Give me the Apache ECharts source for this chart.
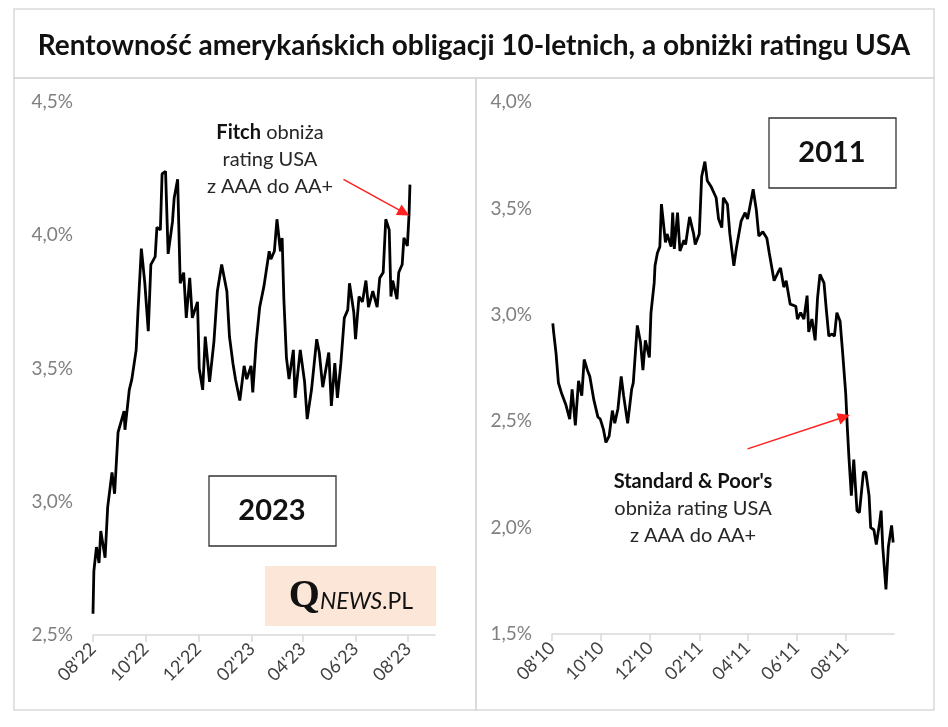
<!DOCTYPE html>
<html>
<head>
<meta charset="utf-8">
<script src="https://cdn.jsdelivr.net/npm/echarts@6/dist/echarts.min.js"></script>
<style>
html, body { margin: 0; padding: 0; background: #fff; }
#main { width: 948px; height: 727px; }
</style>
</head>
<body>
<div id="main"></div>
<script>
// rentownosc 10-latek USA, 2022-2023 (lewy panel)
var leftDates = ['2022-08-01','2022-08-02','2022-08-05','2022-08-08','2022-08-10','2022-08-15','2022-08-18','2022-08-23','2022-08-26','2022-08-30',
	'2022-09-06','2022-09-07','2022-09-12','2022-09-15','2022-09-20','2022-09-22','2022-09-26','2022-09-30','2022-10-04','2022-10-07',
	'2022-10-12','2022-10-14','2022-10-18','2022-10-20','2022-10-24','2022-10-27','2022-11-01','2022-11-03','2022-11-07','2022-11-10',
	'2022-11-14','2022-11-17','2022-11-21','2022-11-24','2022-11-30','2022-12-02','2022-12-06','2022-12-09','2022-12-14','2022-12-19',
	'2022-12-23','2022-12-28','2023-01-03','2023-01-06','2023-01-10','2023-01-13','2023-01-18','2023-01-23','2023-01-26','2023-01-31',
	'2023-02-02','2023-02-06','2023-02-10','2023-02-15','2023-02-21','2023-02-23','2023-02-27','2023-03-02','2023-03-06','2023-03-08',
	'2023-03-10','2023-03-13','2023-03-16','2023-03-21','2023-03-23','2023-03-29','2023-04-03','2023-04-06','2023-04-11','2023-04-17',
	'2023-04-20','2023-04-24','2023-05-01','2023-05-04','2023-05-08','2023-05-11','2023-05-15','2023-05-19','2023-05-23','2023-05-25',
	'2023-05-30','2023-06-01','2023-06-05','2023-06-09','2023-06-13','2023-06-16','2023-06-21','2023-06-26','2023-06-29','2023-07-03',
	'2023-07-06','2023-07-10','2023-07-12','2023-07-14','2023-07-19','2023-07-21','2023-07-25','2023-07-27','2023-07-31','2023-08-02',
	'2023-08-03'];
var leftYields = [2.58,2.74,2.83,2.77,2.89,2.79,2.98,3.11,3.03,3.26,
	3.34,3.27,3.42,3.46,3.57,3.71,3.95,3.82,3.64,3.89,
	3.92,4.03,4.02,4.23,4.24,3.93,4.05,4.14,4.21,3.82,
	3.86,3.69,3.84,3.69,3.75,3.50,3.42,3.62,3.45,3.60,
	3.79,3.89,3.79,3.62,3.52,3.46,3.38,3.51,3.46,3.51,
	3.41,3.60,3.73,3.81,3.94,3.91,3.94,4.06,3.94,3.99,
	3.76,3.54,3.46,3.57,3.39,3.57,3.45,3.31,3.42,3.61,
	3.56,3.43,3.56,3.36,3.52,3.39,3.52,3.69,3.72,3.82,
	3.71,3.61,3.77,3.75,3.83,3.73,3.79,3.73,3.84,3.86,
	4.06,4.02,3.77,3.83,3.76,3.86,3.89,3.99,3.96,4.08,
	4.19];
var leftTicks = ['2022-08-01','2022-10-01','2022-12-01','2023-02-01','2023-04-01','2023-06-01','2023-08-01'];

// rentownosc 10-latek USA, 2010-2011 (prawy panel)
var rightDates = ['2010-08-02','2010-08-03','2010-08-06','2010-08-09','2010-08-13','2010-08-18','2010-08-23','2010-08-26','2010-08-30','2010-09-03',
	'2010-09-07','2010-09-10','2010-09-14','2010-09-17','2010-09-22','2010-09-27','2010-09-30','2010-10-04','2010-10-07','2010-10-11',
	'2010-10-15','2010-10-18','2010-10-22','2010-10-26','2010-10-29','2010-11-03','2010-11-08','2010-11-10','2010-11-15','2010-11-19',
	'2010-11-22','2010-11-25','2010-11-30','2010-12-02','2010-12-06','2010-12-07','2010-12-10','2010-12-13','2010-12-15','2010-12-20',
	'2010-12-22','2010-12-27','2010-12-29','2010-12-31','2011-01-04','2011-01-07','2011-01-12','2011-01-14','2011-01-19','2011-01-24',
	'2011-01-26','2011-01-31','2011-02-03','2011-02-07','2011-02-10','2011-02-15','2011-02-21','2011-02-24','2011-02-28','2011-03-02',
	'2011-03-07','2011-03-10','2011-03-15','2011-03-18','2011-03-24','2011-03-29','2011-04-01','2011-04-06','2011-04-08','2011-04-12',
	'2011-04-15','2011-04-20','2011-04-25','2011-04-28','2011-05-04','2011-05-09','2011-05-12','2011-05-16','2011-05-19','2011-05-24',
	'2011-05-31','2011-06-02','2011-06-06','2011-06-10','2011-06-14','2011-06-16','2011-06-20','2011-06-24','2011-06-27','2011-06-30',
	'2011-07-05','2011-07-08','2011-07-11','2011-07-15','2011-07-18','2011-07-21','2011-07-25','2011-07-28','2011-08-01','2011-08-03',
	'2011-08-05','2011-08-08','2011-08-11','2011-08-15','2011-08-18','2011-08-23','2011-08-26','2011-08-30','2011-09-01','2011-09-05',
	'2011-09-08','2011-09-12','2011-09-14','2011-09-16','2011-09-20','2011-09-23','2011-09-27','2011-09-29'];
var rightYields = [2.96,2.92,2.82,2.68,2.63,2.58,2.51,2.65,2.48,2.69,
	2.62,2.79,2.74,2.71,2.60,2.52,2.51,2.46,2.40,2.43,
	2.55,2.49,2.56,2.71,2.62,2.49,2.65,2.68,2.95,2.87,
	2.74,2.88,2.80,3.01,3.15,3.23,3.29,3.32,3.52,3.34,
	3.38,3.32,3.48,3.31,3.48,3.30,3.35,3.33,3.46,3.38,
	3.33,3.38,3.65,3.72,3.63,3.60,3.55,3.45,3.41,3.55,
	3.52,3.38,3.23,3.31,3.44,3.48,3.45,3.55,3.59,3.49,
	3.37,3.39,3.36,3.29,3.16,3.20,3.22,3.13,3.16,3.05,
	3.04,2.98,3.01,2.98,3.09,2.92,2.98,2.88,3.08,3.19,
	3.15,3.02,2.90,2.91,2.90,3.01,2.97,2.83,2.63,2.47,
	2.33,2.15,2.32,2.08,2.07,2.26,2.26,2.15,2.00,1.99,
	1.92,2.02,2.08,1.91,1.71,1.91,2.01,1.93];
var rightTicks = ['2010-08-01','2010-10-01','2010-12-01','2011-02-01','2011-04-01','2011-06-01','2011-08-01'];

var chart = echarts.init(document.getElementById('main'), null, {renderer: 'canvas'});
var FONT = 'Lato, "Open Sans", sans-serif';

function ts(s) {
	return echarts.number.parseDate(s).getTime();
}

function zip(dates, vals) {
	var out = [];
	for (var i = 0; i < dates.length; i++) {
		out.push([ts(dates[i]), vals[i]]);
	}
	return out;
}

function monthLabel(v) {
	var d = new Date(v);
	var m = d.getMonth() + 1;
	var y = d.getFullYear() % 100;
	return (m < 10 ? '0' + m : m) + "'" + (y < 10 ? '0' + y : y);
}

function pctLabel(v) {
	return v.toFixed(1).replace('.', ',') + '%';
}

// os dat jako os liczbowa (timestamp), ticki tylko na poczatku parzystych miesiecy
function xAxisOf(idx, min, max, ticks) {
	var vals = ticks.map(ts);
	return {
		type: 'value', gridIndex: idx,
		min: ts(min), max: ts(max),
		axisLine: {show: true, onZero: false, lineStyle: {color: '#d9d9d9', width: 1.5}},
		axisTick: {show: true, length: 7, customValues: vals, lineStyle: {color: '#d9d9d9', width: 1.5}},
		axisLabel: {customValues: vals, formatter: monthLabel, rotate: 45, margin: 11,
			color: '#404040', fontSize: 18, fontFamily: FONT},
		splitLine: {show: false}
	};
}

function yAxisOf(idx, min, max) {
	return {
		type: 'value', gridIndex: idx,
		min: min, max: max, interval: 0.5,
		axisLine: {show: false}, axisTick: {show: false},
		axisLabel: {formatter: pctLabel, margin: 20, color: '#808080', fontSize: 19, fontFamily: FONT},
		splitLine: {show: false}
	};
}

function arrow(from, to) {
	return {
		silent: true, animation: false,
		symbol: ['none', 'triangle'], symbolSize: 12,
		label: {show: false},
		lineStyle: {color: '#ff2020', width: 1.5, type: 'solid'},
		itemStyle: {color: '#ff2020'},
		emphasis: {disabled: true},
		data: [[{coord: [ts(from[0]), from[1]]}, {coord: [ts(to[0]), to[1]]}]]
	};
}

var option = {
	backgroundColor: '#ffffff',
	animation: false,
	title: {
		text: 'Rentowność amerykańskich obligacji 10-letnich, a obniżki ratingu USA',
		left: 'center', top: 27,
		textStyle: {fontSize: 28, fontWeight: 'bold', color: '#111', fontFamily: FONT}
	},
	grid: [
		{left: 93, right: 513, top: 102, bottom: 92},
		{left: 552, right: 54, top: 102, bottom: 93}
	],
	xAxis: [
		xAxisOf(0, '2022-08-01', '2023-09-01', leftTicks),
		xAxisOf(1, '2010-08-01', '2011-09-30', rightTicks)
	],
	yAxis: [
		yAxisOf(0, 2.5, 4.5),
		yAxisOf(1, 1.5, 4.0)
	],
	series: [
		{
			type: 'line', xAxisIndex: 0, yAxisIndex: 0,
			data: zip(leftDates, leftYields),
			showSymbol: false, smooth: false,
			lineStyle: {color: '#000', width: 2.8},
			markLine: arrow(['2023-05-18', 4.21], ['2023-07-27', 4.085])
		},
		{
			type: 'line', xAxisIndex: 1, yAxisIndex: 1,
			data: zip(rightDates, rightYields),
			showSymbol: false, smooth: false,
			lineStyle: {color: '#000', width: 2.8},
			markLine: arrow(['2011-04-01', 2.37], ['2011-07-30', 2.52])
		}
	],
	graphic: [
		// ramki
		{type: 'rect', shape: {x: 14, y: 9, width: 920, height: 69}, style: {fill: 'none', stroke: '#d9d9d9', lineWidth: 1.5}, silent: true},
		{type: 'rect', shape: {x: 14, y: 78, width: 462, height: 632}, style: {fill: 'none', stroke: '#d9d9d9', lineWidth: 1.5}, silent: true},
		{type: 'rect', shape: {x: 476, y: 78, width: 458, height: 632}, style: {fill: 'none', stroke: '#d9d9d9', lineWidth: 1.5}, silent: true},
		// QNEWS.PL
		{type: 'rect', shape: {x: 265, y: 566, width: 171, height: 60}, style: {fill: '#fce6d8'}, silent: true},
		{type: 'text', x: 351, y: 597, silent: true, style: {
			text: '{q|Q}{n|NEWS}{p|.PL}', align: 'center', verticalAlign: 'middle',
			rich: {
				q: {fontFamily: '"Liberation Serif", serif', fontSize: 40, fontWeight: 'bold', fill: '#111'},
				n: {fontFamily: FONT, fontSize: 23, fontStyle: 'italic', fill: '#111', padding: [9, 0, 0, 0]},
				p: {fontFamily: FONT, fontSize: 23, fill: '#111', padding: [9, 0, 0, 0]}
			}
		}},
		// 2023
		{type: 'rect', shape: {x: 209, y: 476, width: 127, height: 70}, style: {fill: '#fff', stroke: '#333', lineWidth: 1.3}, silent: true},
		{type: 'text', x: 272, y: 511, silent: true, style: {text: '2023', align: 'center', verticalAlign: 'middle',
			font: 'bold 29px ' + FONT, fill: '#111'}},
		// 2011
		{type: 'rect', shape: {x: 769, y: 118, width: 127, height: 70}, style: {fill: '#fff', stroke: '#333', lineWidth: 1.3}, silent: true},
		{type: 'text', x: 832, y: 153, silent: true, style: {text: '2011', align: 'center', verticalAlign: 'middle',
			font: 'bold 29px ' + FONT, fill: '#111'}},
		// opisy
		{type: 'text', x: 270, y: 160, silent: true, style: {
			text: '{b|Fitch} obniża\nrating USA\nz AAA do AA+', align: 'center', verticalAlign: 'middle',
			font: '20px ' + FONT, fill: '#262626', lineHeight: 27,
			rich: {b: {font: 'bold 20px ' + FONT, fill: '#111', lineHeight: 27}}
		}},
		{type: 'text', x: 693, y: 509, silent: true, style: {
			text: "{b|Standard & Poor's}\nobniża rating USA\nz AAA do AA+", align: 'center', verticalAlign: 'middle',
			font: '20px ' + FONT, fill: '#262626', lineHeight: 27,
			rich: {b: {font: 'bold 20px ' + FONT, fill: '#111', lineHeight: 27}}
		}}
	]
};

chart.setOption(option);
</script>
</body>
</html>
